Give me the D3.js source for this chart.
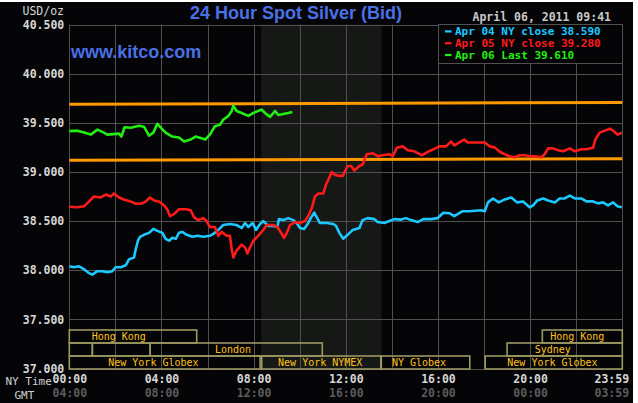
<!DOCTYPE html>
<html>
<head>
<meta charset="utf-8">
<script src="https://cdn.jsdelivr.net/npm/d3@7"></script>
<style>
  html, body { margin: 0; padding: 0; background: #ffffff; }
  svg { display: block; }
</style>
</head>
<body>
<svg id="chart" width="638" height="403"></svg>
<script>
// ---------------- DATA ----------------
const titleText = "24 Hour Spot Silver (Bid)";
const siteText = "www.kitco.com";
const dateText = "April 06, 2011 09:41";
const unitText = "USD/oz";

const yTicks = [37.0, 37.5, 38.0, 38.5, 39.0, 39.5, 40.0, 40.5];
const xTicks = [0, 4, 8, 12, 16, 20, 24];
const nyTimeLabels = ["00:00", "04:00", "08:00", "12:00", "16:00", "20:00", "23:59"];
const gmtLabels = ["04:00", "08:00", "12:00", "16:00", "20:00", "00:00", "03:59"];
const gridHours = [0, 2, 4, 6, 8, 10, 12, 14, 16, 18, 20, 22, 24];
const nymexShade = [8.33, 13.55]; // NY time hours

// [hour (NY time), price]
const apr04 = [[0,38.04],[0.2,38.03],[0.42,38.04],[0.64,38.01],[0.86,37.97],[1.0,37.955],[1.22,37.99],[1.43,37.99],[1.65,37.98],[1.87,37.99],[2.01,38.03],[2.23,38.03],[2.45,38.05],[2.59,38.11],[2.81,38.13],[2.88,38.21],[2.98,38.30],[3.07,38.34],[3.24,38.36],[3.46,38.38],[3.65,38.42],[3.82,38.40],[4.04,38.38],[4.18,38.32],[4.33,38.30],[4.47,38.33],[4.62,38.32],[4.76,38.38],[4.9,38.39],[5.1,38.36],[5.34,38.34],[5.56,38.35],[5.82,38.34],[6.1,38.35],[6.25,38.37],[6.47,38.41],[6.68,38.46],[6.97,38.47],[7.26,38.46],[7.48,38.43],[7.63,38.48],[7.77,38.44],[7.96,38.48],[8.1,38.41],[8.28,38.47],[8.42,38.50],[8.64,38.45],[8.85,38.45],[9.03,38.44],[9.1,38.52],[9.29,38.51],[9.5,38.53],[9.72,38.51],[9.87,38.48],[10.01,38.43],[10.19,38.42],[10.33,38.465],[10.48,38.53],[10.63,38.585],[10.76,38.53],[10.88,38.48],[11.17,38.48],[11.46,38.47],[11.58,38.45],[11.72,38.38],[11.89,38.32],[12.08,38.36],[12.3,38.41],[12.59,38.43],[12.73,38.51],[12.95,38.53],[13.24,38.52],[13.38,38.49],[13.67,38.48],[13.89,38.50],[14.11,38.52],[14.4,38.515],[14.61,38.53],[14.83,38.51],[15.12,38.49],[15.36,38.52],[15.7,38.52],[15.99,38.53],[16.23,38.585],[16.49,38.58],[16.71,38.55],[17.07,38.60],[17.36,38.60],[17.87,38.61],[18.03,38.60],[18.17,38.69],[18.39,38.73],[18.64,38.69],[18.9,38.72],[19.18,38.74],[19.44,38.69],[19.69,38.70],[19.98,38.64],[20.13,38.66],[20.31,38.71],[20.56,38.73],[20.78,38.71],[21.07,38.69],[21.28,38.73],[21.5,38.73],[21.72,38.76],[21.94,38.73],[22.22,38.73],[22.44,38.70],[22.73,38.70],[22.95,38.68],[23.16,38.69],[23.38,38.66],[23.6,38.69],[23.79,38.65],[23.98,38.64]];

const apr05 = [[0,38.646],[0.35,38.64],[0.64,38.65],[0.86,38.70],[1.07,38.75],[1.36,38.74],[1.58,38.77],[1.8,38.75],[1.94,38.78],[2.16,38.74],[2.37,38.72],[2.66,38.70],[2.88,38.676],[3.17,38.68],[3.32,38.70],[3.5,38.74],[3.68,38.71],[3.89,38.70],[4.11,38.66],[4.25,38.62],[4.37,38.55],[4.54,38.57],[4.76,38.62],[5.05,38.62],[5.27,38.61],[5.41,38.54],[5.59,38.51],[5.82,38.53],[5.96,38.50],[6.1,38.44],[6.32,38.44],[6.47,38.35],[6.61,38.39],[6.83,38.35],[6.97,38.35],[7.05,38.21],[7.12,38.13],[7.26,38.20],[7.48,38.26],[7.63,38.23],[7.73,38.17],[7.84,38.23],[7.99,38.30],[8.2,38.35],[8.42,38.41],[8.57,38.46],[8.85,38.46],[9.03,38.44],[9.22,38.37],[9.32,38.33],[9.46,38.39],[9.58,38.46],[9.8,38.49],[10.01,38.48],[10.23,38.50],[10.37,38.55],[10.52,38.63],[10.66,38.75],[10.81,38.78],[11.02,38.78],[11.14,38.87],[11.24,38.92],[11.39,39.00],[11.53,38.97],[11.72,38.96],[11.87,38.96],[12.08,39.06],[12.23,39.06],[12.37,39.015],[12.59,39.06],[12.73,39.075],[12.91,39.18],[13.17,39.19],[13.38,39.16],[13.6,39.17],[13.89,39.18],[14.04,39.16],[14.21,39.245],[14.47,39.26],[14.69,39.22],[14.97,39.21],[15.31,39.17],[15.56,39.205],[15.84,39.235],[16.06,39.26],[16.35,39.26],[16.57,39.31],[16.71,39.27],[16.93,39.30],[17.14,39.33],[17.29,39.30],[17.87,39.30],[18.03,39.30],[18.25,39.26],[18.46,39.25],[18.68,39.205],[18.9,39.18],[19.11,39.16],[19.33,39.15],[19.55,39.17],[19.77,39.17],[19.98,39.16],[20.2,39.16],[20.49,39.15],[20.63,39.18],[20.78,39.24],[20.99,39.24],[21.21,39.22],[21.43,39.21],[21.72,39.24],[21.94,39.21],[22.22,39.23],[22.44,39.23],[22.73,39.245],[22.83,39.33],[23.02,39.40],[23.24,39.42],[23.46,39.44],[23.6,39.42],[23.79,39.38],[23.98,39.40]];

const apr06 = [[0,39.415],[0.35,39.42],[0.64,39.40],[0.93,39.38],[1.22,39.43],[1.5,39.40],[1.65,39.38],[2.16,39.39],[2.26,39.36],[2.4,39.455],[2.66,39.45],[3.03,39.47],[3.24,39.46],[3.46,39.37],[3.65,39.40],[3.82,39.49],[3.97,39.45],[4.18,39.40],[4.47,39.36],[4.76,39.35],[4.98,39.31],[5.27,39.33],[5.49,39.36],[5.77,39.34],[5.9,39.33],[6.1,39.38],[6.32,39.465],[6.54,39.48],[6.68,39.53],[6.9,39.57],[7.05,39.62],[7.12,39.675],[7.26,39.62],[7.48,39.60],[7.77,39.57],[7.99,39.60],[8.35,39.635],[8.49,39.60],[8.71,39.56],[8.93,39.62],[9.07,39.58],[9.29,39.59],[9.5,39.60],[9.68,39.61]];

// orange reference lines: [hour, price] endpoints
const upperBand = [[0, 39.688], [24, 39.707]];
const lowerBand = [[0, 39.119], [24, 39.135]];

const legendLabels = ["Apr 04 NY close 38.590", "Apr 05 NY close 39.280", "Apr 06 Last 39.610"];
const seriesColors = ["#1cc8ff", "#ff1a1a", "#22ee11"];

// trading sessions: row, start hour, end hour, label, label start hour
const sessionRow = [0, 0, 1, 1, 1, 1, 2, 2, 2, 2];
const sessionStart = [0, 20.53, 0, 1.0, 3.51, 19.0, 0, 8.35, 13.54, 18.05];
const sessionEnd = [5.53, 24, 1.0, 3.51, 10.98, 24, 8.28, 13.52, 17.38, 24];
const sessionLabel = ["Hong Kong", "Hong Kong", "", "", "London", "Sydney", "New York Globex", "New York NYMEX", "NY Globex", "New York Globex"];
const sessionLabelAt = [0.97, 20.87, 0, 0, 6.32, 20.2, 1.69, 9.06, 14.0, 19.01];

// ---------------- DRAW ----------------
const svg = d3.select("#chart");
const mono = "'DejaVu Sans Mono', 'Liberation Mono', monospace";
const sans = "'Liberation Sans', Arial, sans-serif";

const x = d3.scaleLinear().domain([0, 24]).range([69.3, 622.3]);
const y = d3.scaleLinear().domain([37, 40.5]).range([368.5, 24.5]);

svg.append("rect").attr("x", 0).attr("y", 2).attr("width", 633).attr("height", 401).attr("fill", "#050507");

// NYMEX shaded area
svg.append("rect")
  .attr("x", x(nymexShade[0])).attr("y", y(40.5))
  .attr("width", x(nymexShade[1]) - x(nymexShade[0]))
  .attr("height", y(37) - y(40.5))
  .attr("fill", "#151815");

const gridColor = "#505050";
// horizontal grid
svg.append("g").selectAll("line").data(yTicks).join("line")
  .attr("x1", x(0)).attr("x2", x(24))
  .attr("y1", d => Math.round(y(d)) + 0.5).attr("y2", d => Math.round(y(d)) + 0.5)
  .attr("stroke", gridColor).attr("stroke-width", 1);
// vertical grid
svg.append("g").selectAll("line").data(gridHours).join("line")
  .attr("x1", d => Math.round(x(d)) + 0.5).attr("x2", d => Math.round(x(d)) + 0.5)
  .attr("y1", y(40.5)).attr("y2", y(37))
  .attr("stroke", gridColor).attr("stroke-width", 1);

// sessions
const rowTop = [330, 343, 356];
const rowH = 13;
const sessG = svg.append("g");
sessionStart.forEach((s, i) => {
  sessG.append("rect")
    .attr("x", x(s)).attr("y", rowTop[sessionRow[i]])
    .attr("width", x(sessionEnd[i]) - x(s)).attr("height", rowH)
    .attr("fill", "none").attr("stroke", "#9c9862").attr("stroke-width", 1.6);
  if (sessionLabel[i]) {
    sessG.append("text")
      .attr("x", x(sessionLabelAt[i])).attr("y", rowTop[sessionRow[i]] + 10.3)
      .attr("font-family", mono).attr("font-size", 10).attr("fill", "#ffc21a")
      .text(sessionLabel[i]);
  }
});

// orange bands
const line = d3.line().x(d => x(d[0])).y(d => y(d[1]));
[upperBand, lowerBand].forEach(b => {
  svg.append("path").attr("d", line(b)).attr("fill", "none")
    .attr("stroke", "#ff9900").attr("stroke-width", 3);
});

// series
[apr04, apr05, apr06].forEach((s, i) => {
  svg.append("path").attr("d", line(s)).attr("fill", "none")
    .attr("stroke", seriesColors[i]).attr("stroke-width", 2.6)
    .attr("stroke-linejoin", "round");
});

// legend box
const lg = svg.append("g");
lg.append("rect").attr("x", 438.5).attr("y", 24.5).attr("width", 184).attr("height", 39)
  .attr("fill", "#050507").attr("stroke", gridColor).attr("stroke-width", 1);
legendLabels.forEach((t, i) => {
  const by = 35.3 + i * 11.8;
  lg.append("rect").attr("x", 445).attr("y", by - 5).attr("width", 6.5).attr("height", 2.2).attr("fill", seriesColors[i]);
  lg.append("text").attr("x", 455).attr("y", by)
    .attr("font-family", mono).attr("font-size", 11).attr("font-weight", "bold")
    .attr("fill", seriesColors[i]).text(t);
});

// y axis
const yAxis = svg.append("g").attr("transform", `translate(${x(0)},0)`)
  .call(d3.axisLeft(y).tickValues(yTicks).tickFormat(d3.format(".3f")).tickSize(0).tickPadding(5));
yAxis.select(".domain").remove();
yAxis.selectAll("text").attr("font-family", mono).attr("font-size", 11.5)
  .attr("font-weight", "bold").attr("fill", "#d6d6d6");

// x axis NY time
const xAxis1 = svg.append("g").attr("transform", `translate(0,${y(37)})`)
  .call(d3.axisBottom(x).tickValues(xTicks).tickFormat((d, i) => nyTimeLabels[i]).tickSize(0).tickPadding(6));
xAxis1.select(".domain").remove();
xAxis1.selectAll("text").attr("font-family", mono).attr("font-size", 11.5)
  .attr("font-weight", "bold").attr("fill", "#d6d6d6");
const xAxis2 = svg.append("g").attr("transform", `translate(0,${y(37) + 14})`)
  .call(d3.axisBottom(x).tickValues(xTicks).tickFormat((d, i) => gmtLabels[i]).tickSize(0).tickPadding(6));
xAxis2.select(".domain").remove();
xAxis2.selectAll("text").attr("font-family", mono).attr("font-size", 11.5)
  .attr("font-weight", "bold").attr("fill", "#5c5c5c");
[xAxis1, xAxis2].forEach(a => a.selectAll(".tick").filter(d => d === 24).select("text").attr("dx", -11));

// labels
svg.append("text").attr("x", 5.5).attr("y", 385).attr("font-family", mono).attr("font-size", 11)
  .attr("fill", "#cfcfcf").text("NY Time");
svg.append("text").attr("x", 14.5).attr("y", 399).attr("font-family", mono).attr("font-size", 11)
  .attr("fill", "#cfcfcf").text("GMT");
svg.append("text").attr("x", 22.5).attr("y", 14.5).attr("font-family", mono).attr("font-size", 11.5)
  .attr("fill", "#d6d6d6").text(unitText);

svg.append("text").attr("x", 296).attr("y", 19).attr("text-anchor", "middle")
  .attr("font-family", sans).attr("font-size", 18).attr("font-weight", "bold")
  .attr("fill", "#4a70e6").text(titleText);
svg.append("text").attr("x", 71).attr("y", 58).attr("font-family", sans).attr("font-size", 18)
  .attr("font-weight", "bold").attr("fill", "#4a70e6").text(siteText);
svg.append("text").attr("x", 611).attr("y", 20.5).attr("text-anchor", "end")
  .attr("font-family", mono).attr("font-size", 11.5).attr("font-weight", "bold")
  .attr("fill", "#c8c8c8").text(dateText);
</script>
</body>
</html>
